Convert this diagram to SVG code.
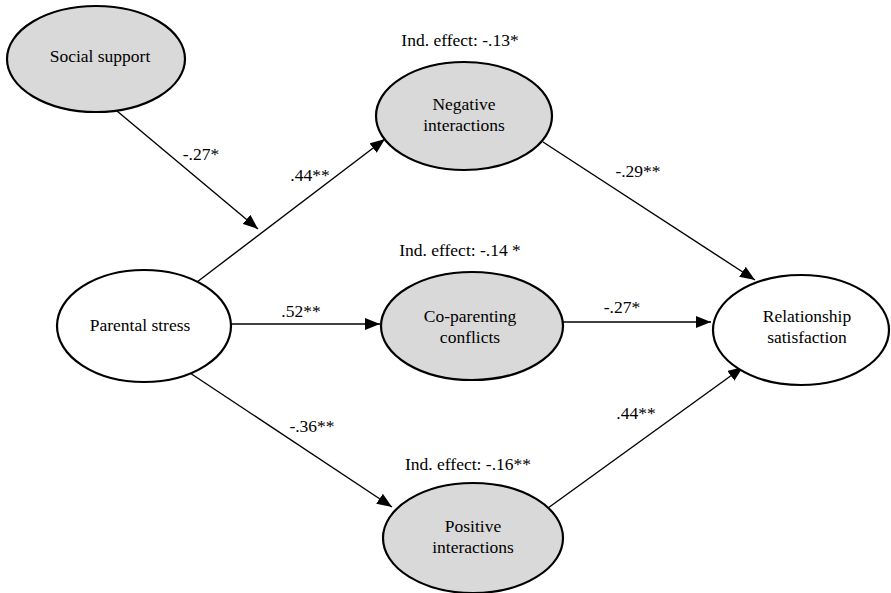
<svg xmlns="http://www.w3.org/2000/svg" width="891" height="593" viewBox="0 0 891 593">
<style>
.n{stroke:#000;stroke-width:2.2}
.g{fill:#d9d9d9}
.w{fill:#fff}
text{font-family:"Liberation Serif","Times New Roman",serif;font-size:17.5px;fill:#000;text-anchor:middle}
.c line{stroke:#000;stroke-width:1.4;marker-end:url(#ah)}
</style>
<defs>
<marker id="ah" markerUnits="userSpaceOnUse" markerWidth="16" markerHeight="12" refX="15" refY="6" orient="auto">
<path d="M0,0 L15,6 L0,12 z" fill="#000"/>
</marker>
</defs>
<rect width="891" height="593" fill="#fff"/>
<g id="connectors" class="c">
<line x1="117" y1="111" x2="258" y2="229"/>
<line x1="197" y1="282" x2="385" y2="139"/>
<line x1="231" y1="324" x2="380" y2="324"/>
<line x1="190" y1="373" x2="392" y2="507"/>
<line x1="543" y1="142" x2="755" y2="280"/>
<line x1="563" y1="322" x2="711" y2="322"/>
<line x1="548" y1="508" x2="743" y2="367"/>
</g>
<g id="labels">
<text x="201" y="160">-.27*</text>
<text x="310" y="181">.44**</text>
<text x="301" y="317">.52**</text>
<text x="312" y="432">-.36**</text>
<text x="638" y="177">-.29**</text>
<text x="622" y="313">-.27*</text>
<text x="636" y="419">.44**</text>
<text x="460" y="46">Ind. effect: -.13*</text>
<text x="460" y="256">Ind. effect: -.14 *</text>
<text x="468" y="470">Ind. effect: -.16**</text>
</g>
<g id="social-support"><ellipse class="n g" cx="96" cy="59" rx="89" ry="53"/><text x="100" y="62">Social support</text></g>
<g id="negative-interactions"><ellipse class="n g" cx="464" cy="116" rx="88" ry="54"/><text x="464" y="110">Negative</text><text x="464" y="131">interactions</text></g>
<g id="parental-stress"><ellipse class="n w" cx="144" cy="326" rx="87" ry="56"/><text x="140" y="331">Parental stress</text></g>
<g id="co-parenting-conflicts"><ellipse class="n g" cx="472" cy="326" rx="91" ry="54"/><text x="470" y="322">Co-parenting</text><text x="470" y="343">conflicts</text></g>
<g id="relationship-satisfaction"><ellipse class="n w" cx="801" cy="330" rx="88" ry="55"/><text x="807" y="322">Relationship</text><text x="807" y="343">satisfaction</text></g>
<g id="positive-interactions"><ellipse class="n g" cx="473" cy="538" rx="90" ry="55"/><text x="473" y="532">Positive</text><text x="473" y="553">interactions</text></g>
</svg>
